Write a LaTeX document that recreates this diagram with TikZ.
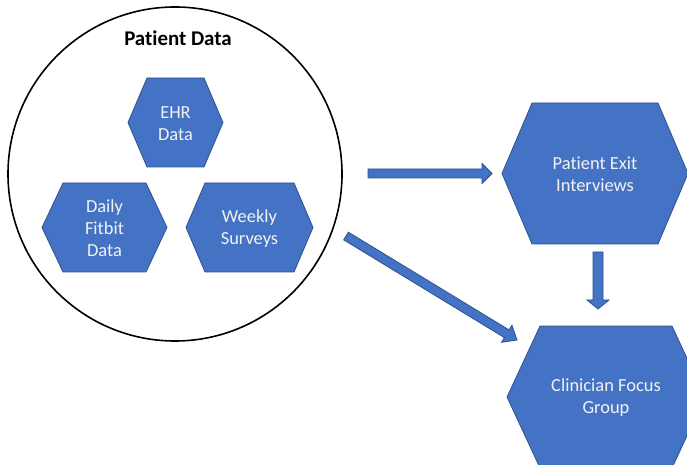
\documentclass[tikz,border=0pt]{standalone}
\usepackage{fontspec}
\setmainfont{Carlito}[Ligatures=NoCommon]
\usetikzlibrary{calc}

\definecolor{hexblue}{HTML}{4472C4}
\definecolor{hexedge}{HTML}{2F528F}
\definecolor{hexink}{HTML}{F2F2F2}

\tikzset{
  shapefill/.style={fill=hexblue, draw=hexedge, line width=0.8bp, line join=miter},
  hexlabel/.style={text=hexink, font=\fontsize{18.5}{22}\selectfont, align=center, inner sep=0pt},
  ring/.style={draw=black, line width=1.6bp},
  grouptitle/.style={font=\bfseries\fontsize{21}{25}\selectfont, inner sep=0pt}
}

% hexagon with pointed left/right ends and a centred label
% #1 name, #2 centre, #3 half width, #4 half height, #5 corner inset, #6 label
\newcommand\hexnode[6]{%
  \begin{scope}[shift={(#2)}]
    \draw[shapefill] (-#3,0) -- (-#3+#5,-#4) -- (#3-#5,-#4) -- (#3,0)
      -- (#3-#5,#4) -- (-#3+#5,#4) -- cycle;
    \node[hexlabel] (#1) at (0,1) {#6};
  \end{scope}}

% filled block arrow between two named coordinates
% #1 start, #2 tip, #3 shaft half width, #4 head half width, #5 head length
\newcommand\blockarrow[5]{%
  \coordinate (#1-base) at ($(#2)!#5!(#1)$);
  \draw[shapefill] ($(#1)!#3!90:(#2)$) -- ($(#1-base)!#3!90:(#2)$)
    -- ($(#1-base)!#4!90:(#2)$) -- (#2) -- ($(#1-base)!#4!-90:(#2)$)
    -- ($(#1-base)!#3!-90:(#2)$) -- ($(#1)!#3!-90:(#2)$) -- cycle;}

\begin{document}
\begin{tikzpicture}[x=1bp, y=-1bp]
  \useasboundingbox (0,0) rectangle (687,465);
  \fill[white] (0,0) rectangle (687,465);
  \clip (0,0) rectangle (687,465);

  % patient data group
  \draw[ring] (175,174) circle[radius=167];
  \node[grouptitle] (title) at (178,38) {Patient Data};

  \hexnode{ehr}{175.5,122.5}{47.5}{44.5}{19}{EHR\\Data}
  \hexnode{fitbit}{104.5,227.5}{62.5}{44.5}{21}{Daily\\Fitbit\\Data}
  \hexnode{surveys}{249.5,227.5}{63.5}{44.5}{19}{Weekly\\Surveys}

  % follow-up activities
  \hexnode{exit}{595,173.5}{93}{70.5}{30}{Patient Exit\\Interviews}
  \hexnode{focus}{606,397}{99}{71}{33}{Clinician Focus\\Group}

  % arrow end points
  \coordinate (toexit) at (368,173.5);
  \coordinate (toexit-tip) at (492,173.5);
  \coordinate (down) at (598,252);
  \coordinate (down-tip) at (598,309);
  \coordinate (diag) at (346,236);
  \coordinate (diag-tip) at (517,340);

  \blockarrow{toexit}{toexit-tip}{4.5bp}{10bp}{10bp}
  \blockarrow{down}{down-tip}{5bp}{11bp}{9bp}
  \blockarrow{diag}{diag-tip}{4.5bp}{10bp}{12bp}
\end{tikzpicture}
\end{document}
